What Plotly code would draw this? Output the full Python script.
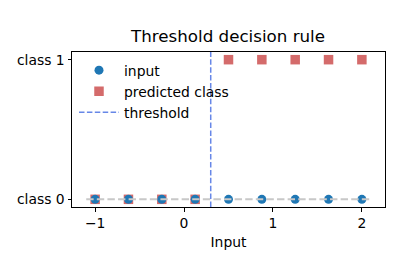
import plotly.graph_objects as go

x_input = [-1.0, -0.625, -0.25, 0.125, 0.5, 0.875, 1.25, 1.625, 2.0]
y_input = [0, 0, 0, 0, 0, 0, 0, 0, 0]
predicted = [0, 0, 0, 0, 1, 1, 1, 1, 1]
threshold = 0.3
y_tick_vals = [0, 1]
y_tick_text = ["class 0", "class 1"]
x_tick_vals = [-1, 0, 1, 2]

FONT = "DejaVu Sans"
fig = go.Figure()

fig.add_trace(go.Scatter(
    x=x_input, y=predicted, mode="markers", name="predicted class",
    marker=dict(symbol="square", size=9.5, color="#d46b6b"), legendrank=2))
fig.add_trace(go.Scatter(
    x=x_input, y=y_input, mode="markers", name="input",
    marker=dict(symbol="circle", size=9, color="#1f77b4"), legendrank=1))
fig.add_trace(go.Scatter(
    x=[min(x_input) - 0.1, max(x_input) + 0.1], y=[0, 0], mode="lines",
    line=dict(color="#c8c8c8", width=2, dash="7.4px,3.2px"), showlegend=False,
    hoverinfo="skip"))
fig.add_trace(go.Scatter(
    x=[None], y=[None], mode="lines", name="threshold",
    line=dict(color="#6787e7", width=1.5, dash="5.5px,2.4px"), legendrank=3))

fig.add_shape(type="line", xref="x", yref="paper", x0=threshold, x1=threshold,
              y0=0, y1=1, line=dict(color="#6787e7", width=1.5, dash="5.5px,2.4px"))

axis_common = dict(showline=True, linecolor="black", linewidth=1, mirror=True,
                   ticks="outside", ticklen=3.5, tickcolor="black", showgrid=False,
                   zeroline=False, tickfont=dict(family=FONT, size=13.9, color="black"))

fig.update_xaxes(range=[-1.26, 2.26], tickvals=x_tick_vals,
                 title=dict(text="Input", font=dict(family=FONT, size=13.9, color="black"), standoff=7),
                 **axis_common)
fig.update_yaxes(range=[-0.055, 1.055], tickvals=y_tick_vals, ticktext=y_tick_text,
                 **axis_common)

fig.update_layout(
    width=400, height=280,
    margin=dict(l=72, r=15, t=52, b=73),
    paper_bgcolor="white", plot_bgcolor="white",
    title=dict(text="Threshold decision rule", x=0.57, xanchor="center", y=0.87,
               yanchor="middle", font=dict(family=FONT, size=16.7, color="black")),
    legend=dict(x=0.0064, y=0.983, xanchor="left", yanchor="top", bgcolor="rgba(0,0,0,0)",
                font=dict(family=FONT, size=13.9, color="black"), tracegroupgap=0,
                itemwidth=40),
    font=dict(family=FONT),
)

fig.write_html("out.html")
